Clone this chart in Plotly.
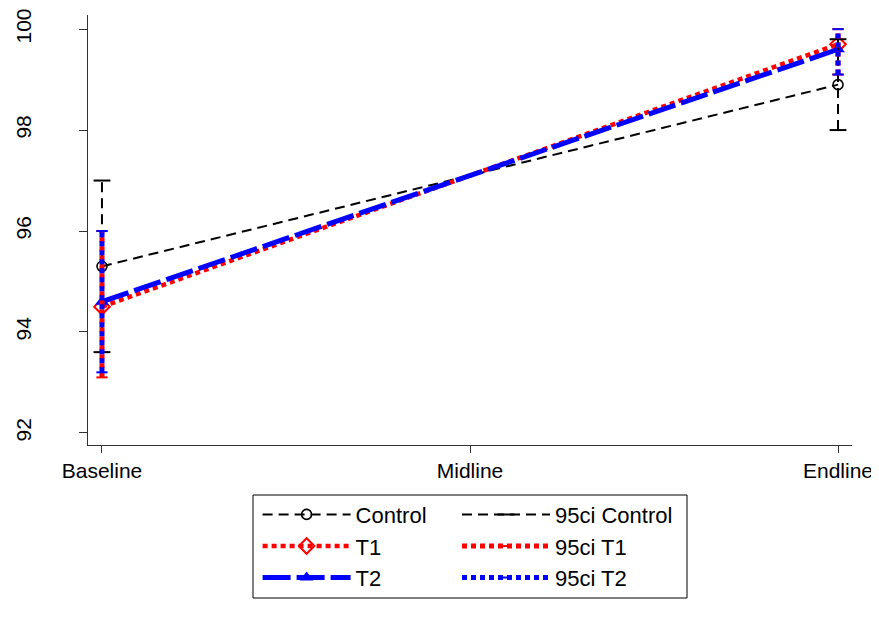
import plotly.graph_objects as go

# ---- data ----
waves = ["Baseline", "Midline", "Endline"]
wave_pos = [1, 2, 3]

control_mean = [95.3, None, 98.9]
t1_mean = [94.5, None, 99.7]
t2_mean = [94.6, None, 99.6]

control_lo = [93.6, None, 98.0]
control_hi = [97.0, None, 99.8]
t1_lo = [93.1, None, 99.1]
t1_hi = [96.0, None, 100.0]
t2_lo = [93.2, None, 99.1]
t2_hi = [96.0, None, 100.0]

y_ticks = [92, 94, 96, 98, 100]

FONT = "Liberation Sans, Arial, sans-serif"
FS = 21
LFS = 22


def ci_xy(lo, hi):
    xs, ys = [], []
    for p, l, h in zip(wave_pos, lo, hi):
        if l is None or h is None:
            continue
        xs += [p, p, None]
        ys += [l, h, None]
    return xs, ys


fig = go.Figure()

# mean lines
fig.add_trace(go.Scatter(
    x=wave_pos, y=control_mean, name="Control", mode="lines+markers",
    connectgaps=True, legend="legend", legendgroup="a",
    line=dict(color="black", width=2, dash="10px,6px"),
    marker=dict(symbol="circle-open", size=10, color="black", line=dict(width=1.6)),
))
fig.add_trace(go.Scatter(
    x=wave_pos, y=t1_mean, name="T1", mode="lines+markers",
    connectgaps=True, legend="legend", legendgroup="b",
    line=dict(color="red", width=4.5, dash="5px,4px"),
    marker=dict(symbol="diamond-open", size=12, color="red", line=dict(width=2)),
))
fig.add_trace(go.Scatter(
    x=wave_pos, y=t2_mean, name="T2", mode="lines+markers",
    connectgaps=True, legend="legend", legendgroup="c",
    line=dict(color="blue", width=5, dash="28px,6px"),
    marker=dict(symbol="triangle-up", size=12, color="blue"),
))

# confidence intervals
cx, cy = ci_xy(control_lo, control_hi)
fig.add_trace(go.Scatter(
    x=cx, y=cy, name="95ci Control", mode="lines+markers",
    legend="legend2", legendgroup="d",
    line=dict(color="black", width=2, dash="10px,6px"),
    marker=dict(symbol="line-ew", size=12, color="black", line=dict(width=2, color="black")),
))
cx, cy = ci_xy(t1_lo, t1_hi)
fig.add_trace(go.Scatter(
    x=cx, y=cy, name="95ci T1", mode="lines+markers",
    legend="legend2", legendgroup="e",
    line=dict(color="red", width=5, dash="5px,4px"),
    marker=dict(symbol="line-ew", size=8, color="red", line=dict(width=2, color="red")),
))
cx, cy = ci_xy(t2_lo, t2_hi)
fig.add_trace(go.Scatter(
    x=cx, y=cy, name="95ci T2", mode="lines+markers",
    legend="legend2", legendgroup="f",
    line=dict(color="blue", width=5, dash="5px,4px"),
    marker=dict(symbol="line-ew", size=8, color="blue", line=dict(width=2, color="blue")),
))

legend_common = dict(
    font=dict(family=FONT, size=LFS, color="black"),
    bgcolor="rgba(0,0,0,0)", borderwidth=0,
    orientation="v", xanchor="left", yanchor="top",
    tracegroupgap=0, itemwidth=88,
)

# page body has an 8px margin: figure is shifted by (8, 8) on screen
L, T, PW, PH = 80, 7, 764, 430

fig.update_layout(
    width=871, height=618,
    margin=dict(l=L, r=871 - L - PW, t=T, b=618 - T - PH),
    paper_bgcolor="white", plot_bgcolor="white",
    font=dict(family=FONT, size=FS, color="black"),
    showlegend=True,
    legend=dict(x=0.222, y=-0.113, **legend_common),
    legend2=dict(x=0.483, y=-0.113, **legend_common),
    xaxis=dict(
        range=[0.962, 3.038], tickvals=wave_pos, ticktext=waves,
        showgrid=False, zeroline=False, showline=True, linecolor="#333", linewidth=1,
        ticks="outside", ticklen=7, tickcolor="#333", automargin=False,
        tickfont=dict(family=FONT, size=FS, color="black"),
    ),
    yaxis=dict(
        range=[91.76, 100.28], tickvals=y_ticks,
        showgrid=False, zeroline=False, showline=True, linecolor="#333", linewidth=1,
        ticks="outside", ticklen=8, tickcolor="#333", tickangle=-90,
        ticklabelstandoff=40, automargin=False,
        tickfont=dict(family=FONT, size=FS, color="black"),
    ),
    shapes=[dict(
        type="rect", xref="paper", yref="paper",
        x0=(253 - 88) / PW, x1=(687 - 88) / PW,
        y0=(445 - 598) / PH, y1=(445 - 495) / PH,
        line=dict(color="black", width=1), fillcolor="rgba(0,0,0,0)",
    )],
)

fig.write_html("out.html")
